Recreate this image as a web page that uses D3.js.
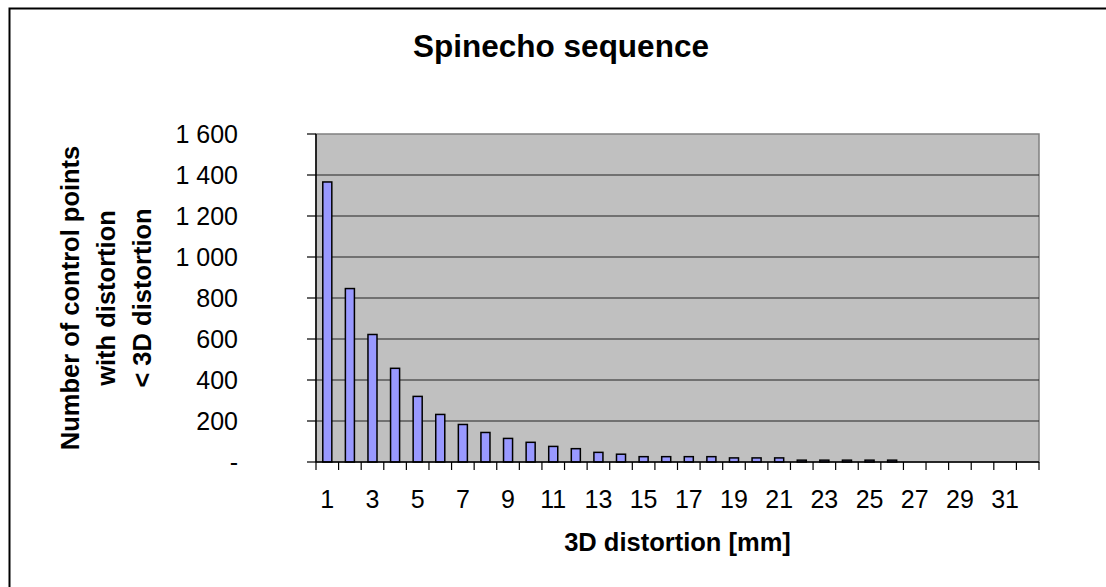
<!DOCTYPE html>
<html>
<head>
<meta charset="utf-8">
<script src="https://cdnjs.cloudflare.com/ajax/libs/d3/7.8.5/d3.min.js"></script>
<style>
  html, body { margin: 0; padding: 0; background: #fff; }
  svg { display: block; font-family: "Liberation Sans", Arial, sans-serif; }
</style>
</head>
<body>
<svg id="chart" width="1106" height="587"></svg>
<script>
// 3D distortion bins (mm) and number of control points per bin
const categories = d3.range(1, 33);
const counts = [1366, 846, 622, 457, 320, 232, 183, 144, 115, 96,
                76, 65, 47, 38, 26, 26, 26, 26, 20, 20,
                20, 9, 9, 9, 9, 9, 0, 0, 0, 0, 0, 0];
const yTicks = [0, 200, 400, 600, 800, 1000, 1200, 1400, 1600];
const xLabels = categories.filter(d => d % 2 === 1);

const titleText = "Spinecho sequence";
const xTitle = "3D distortion [mm]";
const yTitleLines = ["Number of control points", "with distortion", "< 3D distortion"];

const svg = d3.select("#chart");
const plot = { left: 316, top: 134, right: 1039, bottom: 462 };

// outer chart frame (continues past the viewport on the right and bottom)
svg.append("rect")
  .attr("x", 9.5).attr("y", 8.5)
  .attr("width", 1200).attr("height", 700)
  .attr("fill", "#fff").attr("stroke", "#000").attr("stroke-width", 2);

const x = d3.scaleBand().domain(categories).range([plot.left, plot.right]).padding(0);
const y = d3.scaleLinear().domain([0, 1600]).range([plot.bottom, plot.top]);

// plot area
svg.append("rect")
  .attr("x", plot.left).attr("y", plot.top)
  .attr("width", plot.right - plot.left).attr("height", plot.bottom - plot.top)
  .attr("fill", "#c0c0c0").attr("stroke", "#808080").attr("stroke-width", 1.5);

// horizontal gridlines
svg.append("g").selectAll("line")
  .data(yTicks.filter(v => v > 0 && v < 1600))
  .join("line")
  .attr("x1", plot.left).attr("x2", plot.right)
  .attr("y1", d => y(d)).attr("y2", d => y(d))
  .attr("stroke", "#222").attr("stroke-width", 1.2);

// bars
const barW = x.bandwidth() * 0.4;
svg.append("g").selectAll("rect")
  .data(categories.map((c, i) => ({ c, v: counts[i] })))
  .join("rect")
  .attr("x", d => x(d.c) + (x.bandwidth() - barW) / 2)
  .attr("y", d => y(d.v))
  .attr("width", barW)
  .attr("height", d => y(0) - y(d.v))
  .attr("fill", "#9999ff")
  .attr("stroke", "#000").attr("stroke-width", 1.5);

// y axis
const fmt = v => v === 0 ? "-" : d3.format(",")(v).replace(/,/g, " ");
const yAxis = svg.append("g");
yAxis.append("line")
  .attr("x1", plot.left).attr("x2", plot.left)
  .attr("y1", plot.top).attr("y2", plot.bottom)
  .attr("stroke", "#000").attr("stroke-width", 1.5);
yAxis.selectAll("line.tick")
  .data(yTicks).join("line").attr("class", "tick")
  .attr("x1", plot.left - 9).attr("x2", plot.left)
  .attr("y1", d => y(d)).attr("y2", d => y(d))
  .attr("stroke", "#000").attr("stroke-width", 1.2);
yAxis.selectAll("text")
  .data(yTicks).join("text")
  .attr("x", 238).attr("y", d => y(d))
  .attr("text-anchor", "end").attr("dominant-baseline", "central")
  .attr("font-size", 25).attr("fill", "#000")
  .text(fmt);

// x axis
const xAxis = svg.append("g");
xAxis.append("line")
  .attr("x1", plot.left).attr("x2", plot.right)
  .attr("y1", plot.bottom).attr("y2", plot.bottom)
  .attr("stroke", "#000").attr("stroke-width", 1.5);
xAxis.selectAll("line.tick")
  .data(categories.concat([null]))
  .join("line").attr("class", "tick")
  .attr("x1", d => d === null ? plot.right : x(d))
  .attr("x2", d => d === null ? plot.right : x(d))
  .attr("y1", plot.bottom).attr("y2", plot.bottom + 8)
  .attr("stroke", "#000").attr("stroke-width", 1.2);
xAxis.selectAll("text")
  .data(xLabels).join("text")
  .attr("x", d => x(d) + x.bandwidth() / 2)
  .attr("y", 508)
  .attr("text-anchor", "middle")
  .attr("font-size", 25).attr("fill", "#000")
  .text(d => d);

// titles
svg.append("text")
  .attr("x", 561).attr("y", 57)
  .attr("text-anchor", "middle")
  .attr("font-size", 31.5).attr("font-weight", "bold")
  .text(titleText);

svg.append("text")
  .attr("x", (plot.left + plot.right) / 2).attr("y", 551)
  .attr("text-anchor", "middle")
  .attr("font-size", 25.5).attr("font-weight", "bold")
  .text(xTitle);

const yTitleX = [79, 115, 151];
svg.append("g").selectAll("text")
  .data(yTitleLines).join("text")
  .attr("transform", (d, i) => `translate(${yTitleX[i]},${(plot.top + plot.bottom) / 2}) rotate(-90)`)
  .attr("text-anchor", "middle")
  .attr("font-size", 25.5).attr("font-weight", "bold")
  .text(d => d);
</script>
</body>
</html>
